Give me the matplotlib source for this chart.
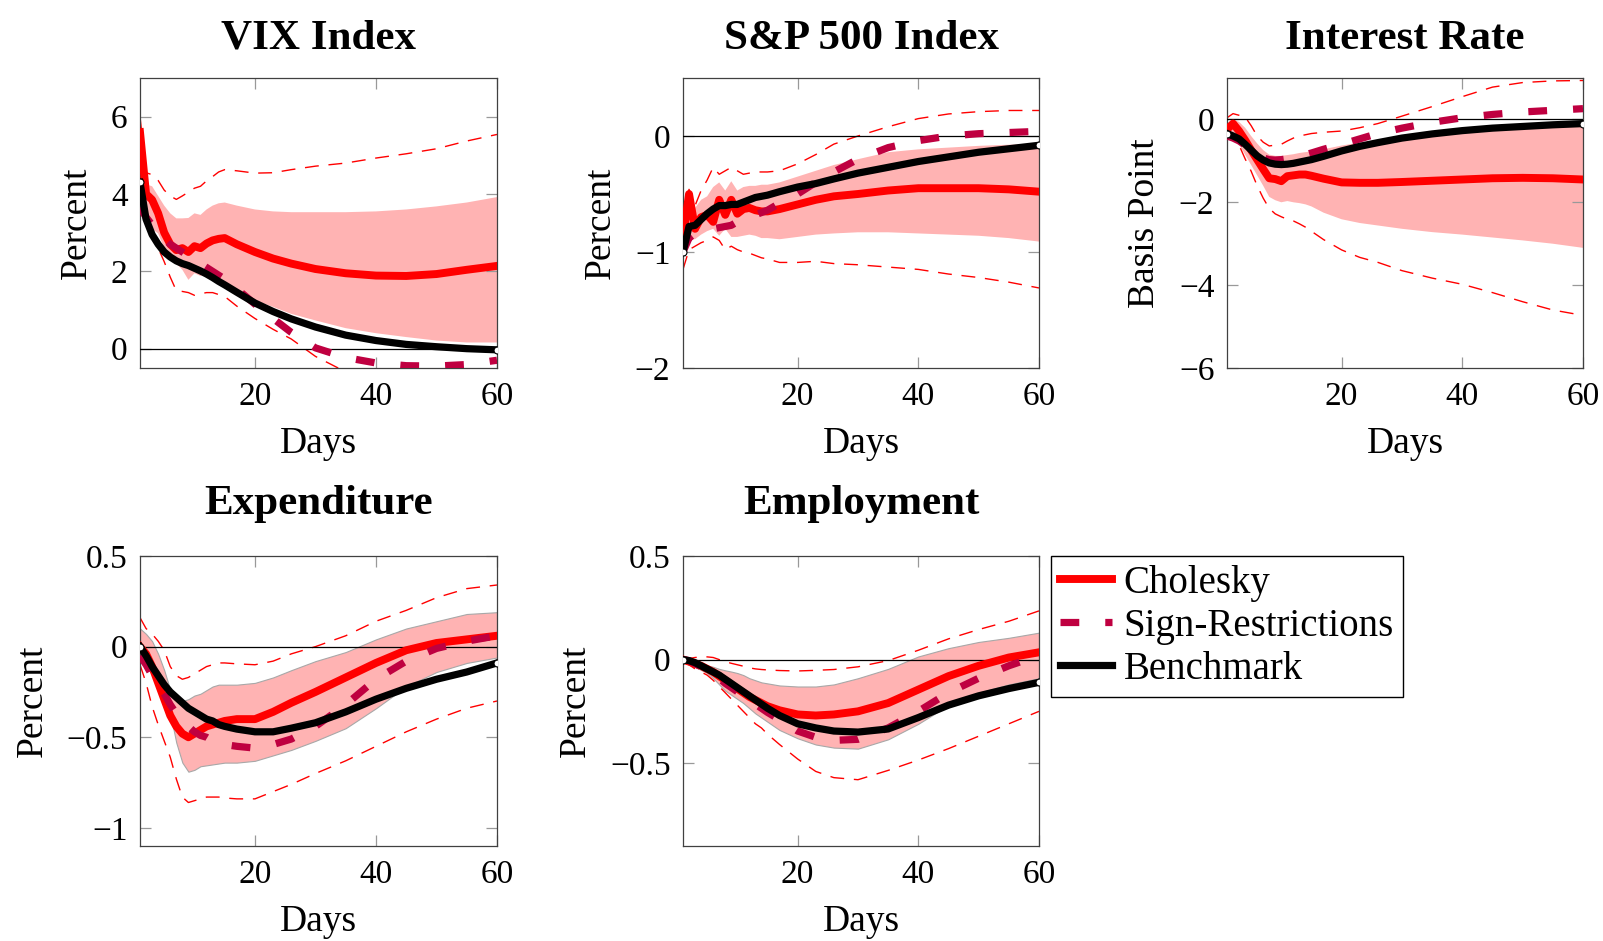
import numpy as np
import matplotlib
matplotlib.use("Agg")
import matplotlib.pyplot as plt
from matplotlib.lines import Line2D
from matplotlib.ticker import FixedLocator, FuncFormatter

plt.rcParams["font.family"] = ["Liberation Serif", "DejaVu Serif"]

# ===== impulse responses, days 1..60 =====
days = [1, 2, 3, 4, 5, 6, 7, 8, 9, 10, 11, 12, 13, 14, 15, 17, 20, 23, 26, 30, 35, 40, 45, 50, 55, 60]

# VIX Index
vix_chol = [5.6, 4.0, 3.85, 3.5, 3.0, 2.7, 2.55, 2.6, 2.5, 2.65, 2.6, 2.72, 2.8, 2.84, 2.86, 2.7, 2.5, 2.33, 2.2, 2.06, 1.95, 1.89, 1.88, 1.93, 2.04, 2.14]
vix_lo68 = [3.5, 3.25, 3.1, 2.98, 2.6, 2.4, 2.2, 2.04, 1.78, 1.95, 1.88, 1.98, 1.92, 1.85, 1.68, 1.5, 1.25, 1.08, 0.9, 0.73, 0.53, 0.4, 0.3, 0.21, 0.16, 0.16]
vix_hi68 = [5.8, 4.25, 4.2, 3.95, 3.7, 3.5, 3.37, 3.37, 3.38, 3.5, 3.46, 3.6, 3.7, 3.76, 3.78, 3.7, 3.6, 3.55, 3.53, 3.53, 3.53, 3.55, 3.6, 3.68, 3.78, 3.92]
vix_lo90 = [3.6, 3.3, 3.0, 2.6, 2.25, 1.85, 1.5, 1.48, 1.45, 1.38, 1.42, 1.45, 1.45, 1.4, 1.35, 1.1, 0.78, 0.5, 0.25, -0.2, -0.6, -0.85, -1.0, -1.1, -1.2, -1.3]
vix_hi90 = [6.0, 4.55, 4.5, 4.35, 4.1, 3.95, 3.86, 3.95, 4.05, 4.15, 4.2, 4.34, 4.45, 4.57, 4.63, 4.6, 4.54, 4.55, 4.63, 4.72, 4.8, 4.93, 5.04, 5.17, 5.37, 5.54]
vix_sign = [3.65, 3.4, 3.2, 3.0, 2.85, 2.7, 2.6, 2.5, 2.4, 2.3, 2.2, 2.1, 2.0, 1.9, 1.8, 1.55, 1.15, 0.78, 0.42, 0.02, -0.23, -0.37, -0.44, -0.45, -0.41, -0.3]
vix_bench = [4.3, 3.35, 2.95, 2.7, 2.5, 2.37, 2.27, 2.2, 2.15, 2.08, 2.01, 1.93, 1.84, 1.74, 1.65, 1.46, 1.18, 0.96, 0.77, 0.56, 0.35, 0.21, 0.11, 0.05, 0.0, -0.03]

# S&P 500 Index
sp_chol = [-0.87, -0.5, -0.8, -0.7, -0.68, -0.74, -0.55, -0.68, -0.55, -0.67, -0.63, -0.62, -0.64, -0.65, -0.65, -0.63, -0.59, -0.55, -0.52, -0.5, -0.47, -0.45, -0.45, -0.45, -0.46, -0.48]
sp_lo68 = [-0.95, -0.89, -0.89, -0.85, -0.82, -0.8, -0.86, -0.8, -0.87, -0.87, -0.86, -0.85, -0.86, -0.88, -0.88, -0.89, -0.87, -0.85, -0.84, -0.83, -0.83, -0.84, -0.85, -0.86, -0.88, -0.91]
sp_hi68 = [-0.75, -0.6, -0.62, -0.55, -0.52, -0.44, -0.4, -0.47, -0.39, -0.47, -0.44, -0.43, -0.43, -0.42, -0.42, -0.4, -0.35, -0.3, -0.25, -0.2, -0.14, -0.115, -0.1, -0.085, -0.075, -0.07]
sp_lo90 = [-1.15, -0.98, -0.95, -0.92, -0.9, -0.87, -0.9, -0.98, -0.95, -0.98, -1.0, -1.01, -1.03, -1.05, -1.06, -1.09, -1.09, -1.08, -1.1, -1.11, -1.13, -1.15, -1.19, -1.22, -1.26, -1.31]
sp_hi90 = [-0.7, -0.46, -0.6, -0.47, -0.38, -0.27, -0.33, -0.3, -0.27, -0.3, -0.33, -0.32, -0.31, -0.31, -0.31, -0.3, -0.24, -0.16, -0.07, 0.0, 0.08, 0.15, 0.19, 0.21, 0.22, 0.22]
sp_sign = [-1.0, -0.88, -0.84, -0.82, -0.81, -0.8, -0.79, -0.78, -0.77, -0.74, -0.72, -0.7, -0.68, -0.66, -0.64, -0.58, -0.5, -0.4, -0.31, -0.2, -0.1, -0.04, 0.0, 0.02, 0.03, 0.04]
sp_bench = [-1.0, -0.78, -0.77, -0.72, -0.67, -0.63, -0.6, -0.6, -0.59, -0.59, -0.57, -0.55, -0.53, -0.52, -0.51, -0.48, -0.44, -0.41, -0.37, -0.32, -0.27, -0.22, -0.18, -0.14, -0.11, -0.08]

# Interest Rate
ir_chol = [-0.24, -0.1, -0.28, -0.5, -0.74, -0.97, -1.2, -1.42, -1.44, -1.49, -1.37, -1.35, -1.33, -1.33, -1.36, -1.43, -1.52, -1.53, -1.53, -1.51, -1.48, -1.45, -1.42, -1.41, -1.42, -1.45]
ir_lo68 = [-0.36, -0.42, -0.6, -0.85, -1.1, -1.35, -1.6, -1.87, -1.95, -2.0, -1.97, -2.0, -2.02, -2.05, -2.1, -2.25, -2.41, -2.5, -2.56, -2.64, -2.72, -2.78, -2.85, -2.92, -3.0, -3.1]
ir_hi68 = [-0.16, 0.0, -0.06, -0.2, -0.4, -0.58, -0.74, -0.85, -0.88, -0.88, -0.86, -0.84, -0.81, -0.79, -0.77, -0.72, -0.63, -0.56, -0.49, -0.4, -0.31, -0.24, -0.18, -0.13, -0.09, -0.06]
ir_lo90 = [-0.24, -0.35, -0.62, -0.95, -1.25, -1.6, -1.9, -2.15, -2.28, -2.35, -2.41, -2.45, -2.52, -2.6, -2.7, -2.9, -3.15, -3.33, -3.45, -3.65, -3.83, -3.98, -4.18, -4.4, -4.6, -4.73]
ir_hi90 = [0.04, 0.14, 0.1, 0.06, -0.15, -0.4, -0.55, -0.64, -0.62, -0.6, -0.52, -0.45, -0.4, -0.37, -0.34, -0.31, -0.28, -0.2, -0.1, 0.08, 0.31, 0.55, 0.78, 0.89, 0.93, 0.94]
ir_sign = [-0.4, -0.45, -0.52, -0.62, -0.75, -0.86, -0.93, -0.97, -0.98, -0.97, -0.95, -0.92, -0.89, -0.85, -0.81, -0.72, -0.6, -0.47, -0.34, -0.21, -0.07, 0.04, 0.12, 0.18, 0.22, 0.26]
ir_bench = [-0.34, -0.4, -0.47, -0.6, -0.74, -0.88, -0.98, -1.05, -1.08, -1.09, -1.08, -1.06, -1.03, -1.0, -0.97, -0.89, -0.76, -0.65, -0.56, -0.45, -0.35, -0.27, -0.21, -0.17, -0.13, -0.1]

# Expenditure
ex_chol = [0.0, -0.04, -0.11, -0.2, -0.29, -0.38, -0.44, -0.48, -0.5, -0.48, -0.46, -0.44, -0.43, -0.42, -0.41, -0.4, -0.4, -0.36, -0.31, -0.25, -0.17, -0.09, -0.02, 0.02, 0.04, 0.06]
ex_lo68 = [-0.08, -0.11, -0.15, -0.19, -0.25, -0.37, -0.53, -0.64, -0.69, -0.68, -0.66, -0.655, -0.65, -0.645, -0.64, -0.64, -0.63, -0.6, -0.57, -0.52, -0.45, -0.34, -0.22, -0.14, -0.09, -0.06]
ex_hi68 = [0.1, 0.07, 0.03, -0.04, -0.13, -0.24, -0.29, -0.3, -0.29, -0.27, -0.26, -0.24, -0.22, -0.21, -0.21, -0.21, -0.2, -0.17, -0.13, -0.08, -0.03, 0.04, 0.1, 0.14, 0.18, 0.19]
ex_lo90 = [-0.1, -0.2, -0.33, -0.43, -0.52, -0.61, -0.73, -0.83, -0.86, -0.85, -0.84, -0.83, -0.83, -0.83, -0.835, -0.84, -0.84, -0.8, -0.76, -0.7, -0.63, -0.55, -0.47, -0.4, -0.34, -0.3]
ex_hi90 = [0.16, 0.1, 0.07, 0.03, -0.02, -0.11, -0.16, -0.18, -0.17, -0.15, -0.13, -0.11, -0.1, -0.09, -0.09, -0.095, -0.1, -0.08, -0.04, 0.0, 0.06, 0.14, 0.2, 0.27, 0.32, 0.34]
ex_sign = [-0.05, -0.1, -0.16, -0.21, -0.26, -0.32, -0.37, -0.41, -0.44, -0.47, -0.49, -0.5, -0.52, -0.53, -0.54, -0.55, -0.56, -0.54, -0.51, -0.44, -0.32, -0.18, -0.08, -0.01, 0.03, 0.06]
ex_bench = [0.0, -0.05, -0.11, -0.16, -0.21, -0.25, -0.28, -0.31, -0.34, -0.36, -0.38, -0.4, -0.41, -0.43, -0.44, -0.455, -0.47, -0.47, -0.45, -0.42, -0.36, -0.29, -0.23, -0.18, -0.14, -0.09]

# Employment
em_chol = [0.0, -0.01, -0.02, -0.03, -0.045, -0.06, -0.08, -0.1, -0.12, -0.14, -0.16, -0.18, -0.195, -0.21, -0.225, -0.245, -0.265, -0.27, -0.265, -0.25, -0.21, -0.145, -0.08, -0.03, 0.01, 0.035]
em_lo68 = [-0.01, -0.02, -0.035, -0.05, -0.065, -0.09, -0.12, -0.15, -0.17, -0.19, -0.21, -0.235, -0.26, -0.28, -0.3, -0.34, -0.38, -0.41, -0.425, -0.43, -0.385, -0.31, -0.22, -0.16, -0.12, -0.09]
em_hi68 = [0.0, -0.005, -0.01, -0.02, -0.028, -0.035, -0.045, -0.052, -0.058, -0.065, -0.075, -0.09, -0.1, -0.11, -0.115, -0.125, -0.13, -0.13, -0.12, -0.09, -0.045, 0.015, 0.055, 0.085, 0.105, 0.13]
em_lo90 = [-0.01, -0.025, -0.045, -0.06, -0.075, -0.1, -0.13, -0.16, -0.19, -0.22, -0.25, -0.28, -0.31, -0.33, -0.36, -0.41, -0.48, -0.54, -0.57, -0.58, -0.535, -0.485, -0.43, -0.37, -0.31, -0.25]
em_hi90 = [0.0, 0.005, 0.01, 0.013, 0.013, 0.01, 0.0, -0.01, -0.018, -0.025, -0.032, -0.04, -0.045, -0.048, -0.05, -0.053, -0.055, -0.052, -0.048, -0.035, -0.005, 0.045, 0.1, 0.145, 0.185, 0.235]
em_sign = [0.0, -0.005, -0.02, -0.035, -0.05, -0.07, -0.09, -0.115, -0.135, -0.155, -0.175, -0.195, -0.215, -0.235, -0.255, -0.29, -0.345, -0.375, -0.39, -0.385, -0.33, -0.25, -0.16, -0.09, -0.03, 0.02]
em_bench = [0.0, -0.005, -0.015, -0.03, -0.045, -0.06, -0.075, -0.095, -0.115, -0.135, -0.155, -0.175, -0.195, -0.215, -0.235, -0.27, -0.31, -0.33, -0.345, -0.35, -0.335, -0.28, -0.22, -0.175, -0.14, -0.11]

titles = ["VIX Index", "S&P 500 Index", "Interest Rate", "Expenditure", "Employment"]
ylabels = ["Percent", "Percent", "Basis Point", "Percent", "Percent"]
ylims = [(-0.5, 7), (-2, 0.5), (-6, 1), (-1.1, 0.5), (-0.9, 0.5)]
yticks = [[0, 2, 4, 6], [-2, -1, 0], [-6, -4, -2, 0], [-1, -0.5, 0, 0.5], [-0.5, 0, 0.5]]
xticks = [20, 40, 60]
legend_labels = ["Cholesky", "Sign-Restrictions", "Benchmark"]

panels = [
    (vix_chol, vix_lo68, vix_hi68, vix_lo90, vix_hi90, vix_sign, vix_bench),
    (sp_chol, sp_lo68, sp_hi68, sp_lo90, sp_hi90, sp_sign, sp_bench),
    (ir_chol, ir_lo68, ir_hi68, ir_lo90, ir_hi90, ir_sign, ir_bench),
    (ex_chol, ex_lo68, ex_hi68, ex_lo90, ex_hi90, ex_sign, ex_bench),
    (em_chol, em_lo68, em_hi68, em_lo90, em_hi90, em_sign, em_bench),
]

RED = "#ff0000"
BAND = "#ffb3b3"
PURPLE = "#bf0040"

W, H = 1603, 941
fig = plt.figure(figsize=(W / 100, H / 100), dpi=100)

# axes boxes in pixels: left, top, right, bottom
col_x = [(140, 497), (683, 1039), (1227, 1583)]
row_y = [(78, 368), (556, 846)]


def fmt_tick(v, pos):
    s = f"{v:g}"
    return s.replace("-", "\u2212")


for i, (chol, lo68, hi68, lo90, hi90, sign, bench) in enumerate(panels):
    row, col = divmod(i, 3)
    x0, x1 = col_x[col]
    y0, y1 = row_y[row]
    ax = fig.add_axes([x0 / W, 1 - y1 / H, (x1 - x0) / W, (y1 - y0) / H])

    edge = "#a8a8a8" if row == 1 else "none"
    ax.fill_between(days, lo68, hi68, facecolor=BAND, edgecolor=edge, linewidth=0.8, zorder=1)
    ax.plot(days, lo90, color=RED, lw=1.0, dashes=(10, 7), zorder=2)
    ax.plot(days, hi90, color=RED, lw=1.0, dashes=(10, 7), zorder=2)
    ax.axhline(0, color="black", lw=0.9, zorder=3)
    ax.plot(days, chol, color=RED, lw=5.7, zorder=4)
    ax.plot(days, sign, color=PURPLE, lw=5.2, dashes=(2.6, 3.6), dash_capstyle="butt", zorder=5)
    ax.plot(days, bench, color="black", lw=5.2, zorder=6,
            marker="o", markevery=[0, len(days) - 1], markersize=5,
            markerfacecolor="white", markeredgecolor="black", markeredgewidth=0.8)

    ax.set_xlim(1, 60)
    ax.set_ylim(*ylims[i])
    ax.xaxis.set_major_locator(FixedLocator(xticks))
    ax.yaxis.set_major_locator(FixedLocator(yticks[i]))
    ax.yaxis.set_major_formatter(FuncFormatter(fmt_tick))
    ax.tick_params(direction="in", length=8, width=0.9, color="#999999",
                   top=True, right=True, labelsize=24)
    ax.tick_params(axis="x", pad=9.5)
    ax.tick_params(axis="y", pad=9)
    for sp in ax.spines.values():
        sp.set_color("#404040")
        sp.set_linewidth(0.9)

    ax.set_title(titles[i], fontsize=31, fontweight="bold", pad=21 if row == 0 else 30)
    ax.set_xlabel("Days", fontsize=27, labelpad=11)
    ax.set_ylabel(ylabels[i], fontsize=27, labelpad=12)

handles = [
    Line2D([], [], color=RED, lw=5.7),
    Line2D([], [], color=PURPLE, lw=5.2, dashes=(2.6, 3.6), dash_capstyle="butt"),
    Line2D([], [], color="black", lw=5.2),
]
fig.legend(handles, legend_labels, loc="upper left",
           bbox_to_anchor=(1051 / W, 1 - 556 / H), borderaxespad=0,
           fontsize=28, frameon=True, fancybox=False, edgecolor="black",
           framealpha=1, handlelength=1.35, handletextpad=0.3,
           borderpad=0.22, labelspacing=0.16)

fig.savefig("out.png", dpi=100)
